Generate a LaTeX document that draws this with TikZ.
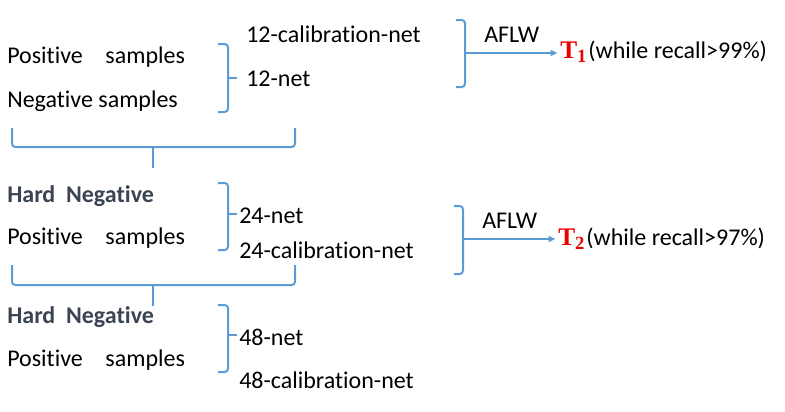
\documentclass[tikz,border=0pt]{standalone}
\usepackage[no-math]{fontspec}
\setmainfont{Carlito}[Ligatures=NoCommon]
\newfontfamily\tfont{Liberation Serif}
\usetikzlibrary{calc, arrows.meta, math}
\definecolor{lineblue}{RGB}{91,155,213}
\definecolor{hardgray}{RGB}{59,68,82}
\definecolor{tred}{RGB}{235,0,0}

\begin{document}
\begin{tikzpicture}[x=0.75pt, y=-0.75pt,
  txt/.style={anchor=base west, inner sep=0pt, font=\fontsize{18}{21.6}\selectfont},
  hard/.style={txt, font=\fontsize{18}{21.6}\selectfont\bfseries, text=hardgray},
  tlab/.style={txt, font=\fontsize{19}{21.6}\selectfont\tfont\bfseries, text=tred},
  brk/.style={draw=lineblue, line width=1.5pt, rounded corners=2.5pt},
  arr/.style={draw=lineblue, line width=1.1pt, shorten >=2pt, -{Triangle[length=5pt,width=4.5pt]}}]

\tikzmath{
        \bx = 228; \tx = 9;
        \ax1 = 465; \ax2 = 463;
        \bl = 12; \br = 295; \bm = 153;
         }

\useasboundingbox (0,0) rectangle (785,411);

% stage 1: 12-net
\node[txt] (pos1) at (7,63) {Positive\hspace{17pt}samples};
\node[txt] (neg1) at (7,107) {Negative samples};
\node[txt] (cal12) at (246,42) {12-calibration-net};
\node[txt] (net12) at (246,86) {12-net};

\draw[brk] (\bx-10,44) -- (\bx,44) -- (\bx,112) -- (\bx-10,112);
\draw[brk] (\bx,78) -- (\bx+\tx,78);

\node[txt] (aflw1) at (484,42) {AFLW};
\node[tlab] (t1) at (560,58) {T\raisebox{-3.5pt}{\fontsize{14}{14}\selectfont 1}};
\node[txt] (rec1) at ([xshift=1pt]t1.base east) {(while recall>99\%)};

\draw[brk] (\ax1-9,20) -- (\ax1,20) -- (\ax1,87) -- (\ax1-9,87);
\coordinate (m1) at (\ax1,53);
\draw[arr] (m1) -- (m1 -| t1.west);

\draw[brk] (\bl,128) -- (\bl,147) -- (\br,147) -- (\br,128);
\draw[brk] (\bm,147) -- (\bm,168);

% stage 2: 24-net
\node[hard] (hard2) at (7,202) {Hard\hspace{8pt}Negative};
\node[txt] (pos2) at (7,244) {Positive\hspace{17pt}samples};
\node[txt] (net24) at (239,223) {24-net};
\node[txt] (cal24) at (239,258) {24-calibration-net};

\draw[brk] (\bx-10,183) -- (\bx,183) -- (\bx,250) -- (\bx-10,250);
\draw[brk] (\bx,214) -- (\bx+\tx,214);

\node[txt] (aflw2) at (482,228) {AFLW};
\node[tlab] (t2) at (558,245) {T\raisebox{-3.5pt}{\fontsize{14}{14}\selectfont 2}};
\node[txt] (rec2) at ([xshift=1pt]t2.base east) {(while recall>97\%)};

\draw[brk] (\ax2-9,206) -- (\ax2,206) -- (\ax2,274) -- (\ax2-9,274);
\coordinate (m2) at (\ax2,239);
\draw[arr] (m2) -- (m2 -| t2.west);

\draw[brk] (\bl,265) -- (\bl,285) -- (\br,285) -- (\br,265);
\draw[brk] (\bm,285) -- (\bm,306);

% stage 3: 48-net
\node[hard] (hard3) at (7,323) {Hard\hspace{8pt}Negative};
\node[txt] (pos3) at (7,366) {Positive\hspace{17pt}samples};
\node[txt] (net48) at (239,345) {48-net};
\node[txt] (cal48) at (239,388) {48-calibration-net};

\draw[brk] (\bx-10,305) -- (\bx,305) -- (\bx,372) -- (\bx-10,372);
\draw[brk] (\bx,335) -- (\bx+\tx,335);

\end{tikzpicture}
\end{document}
